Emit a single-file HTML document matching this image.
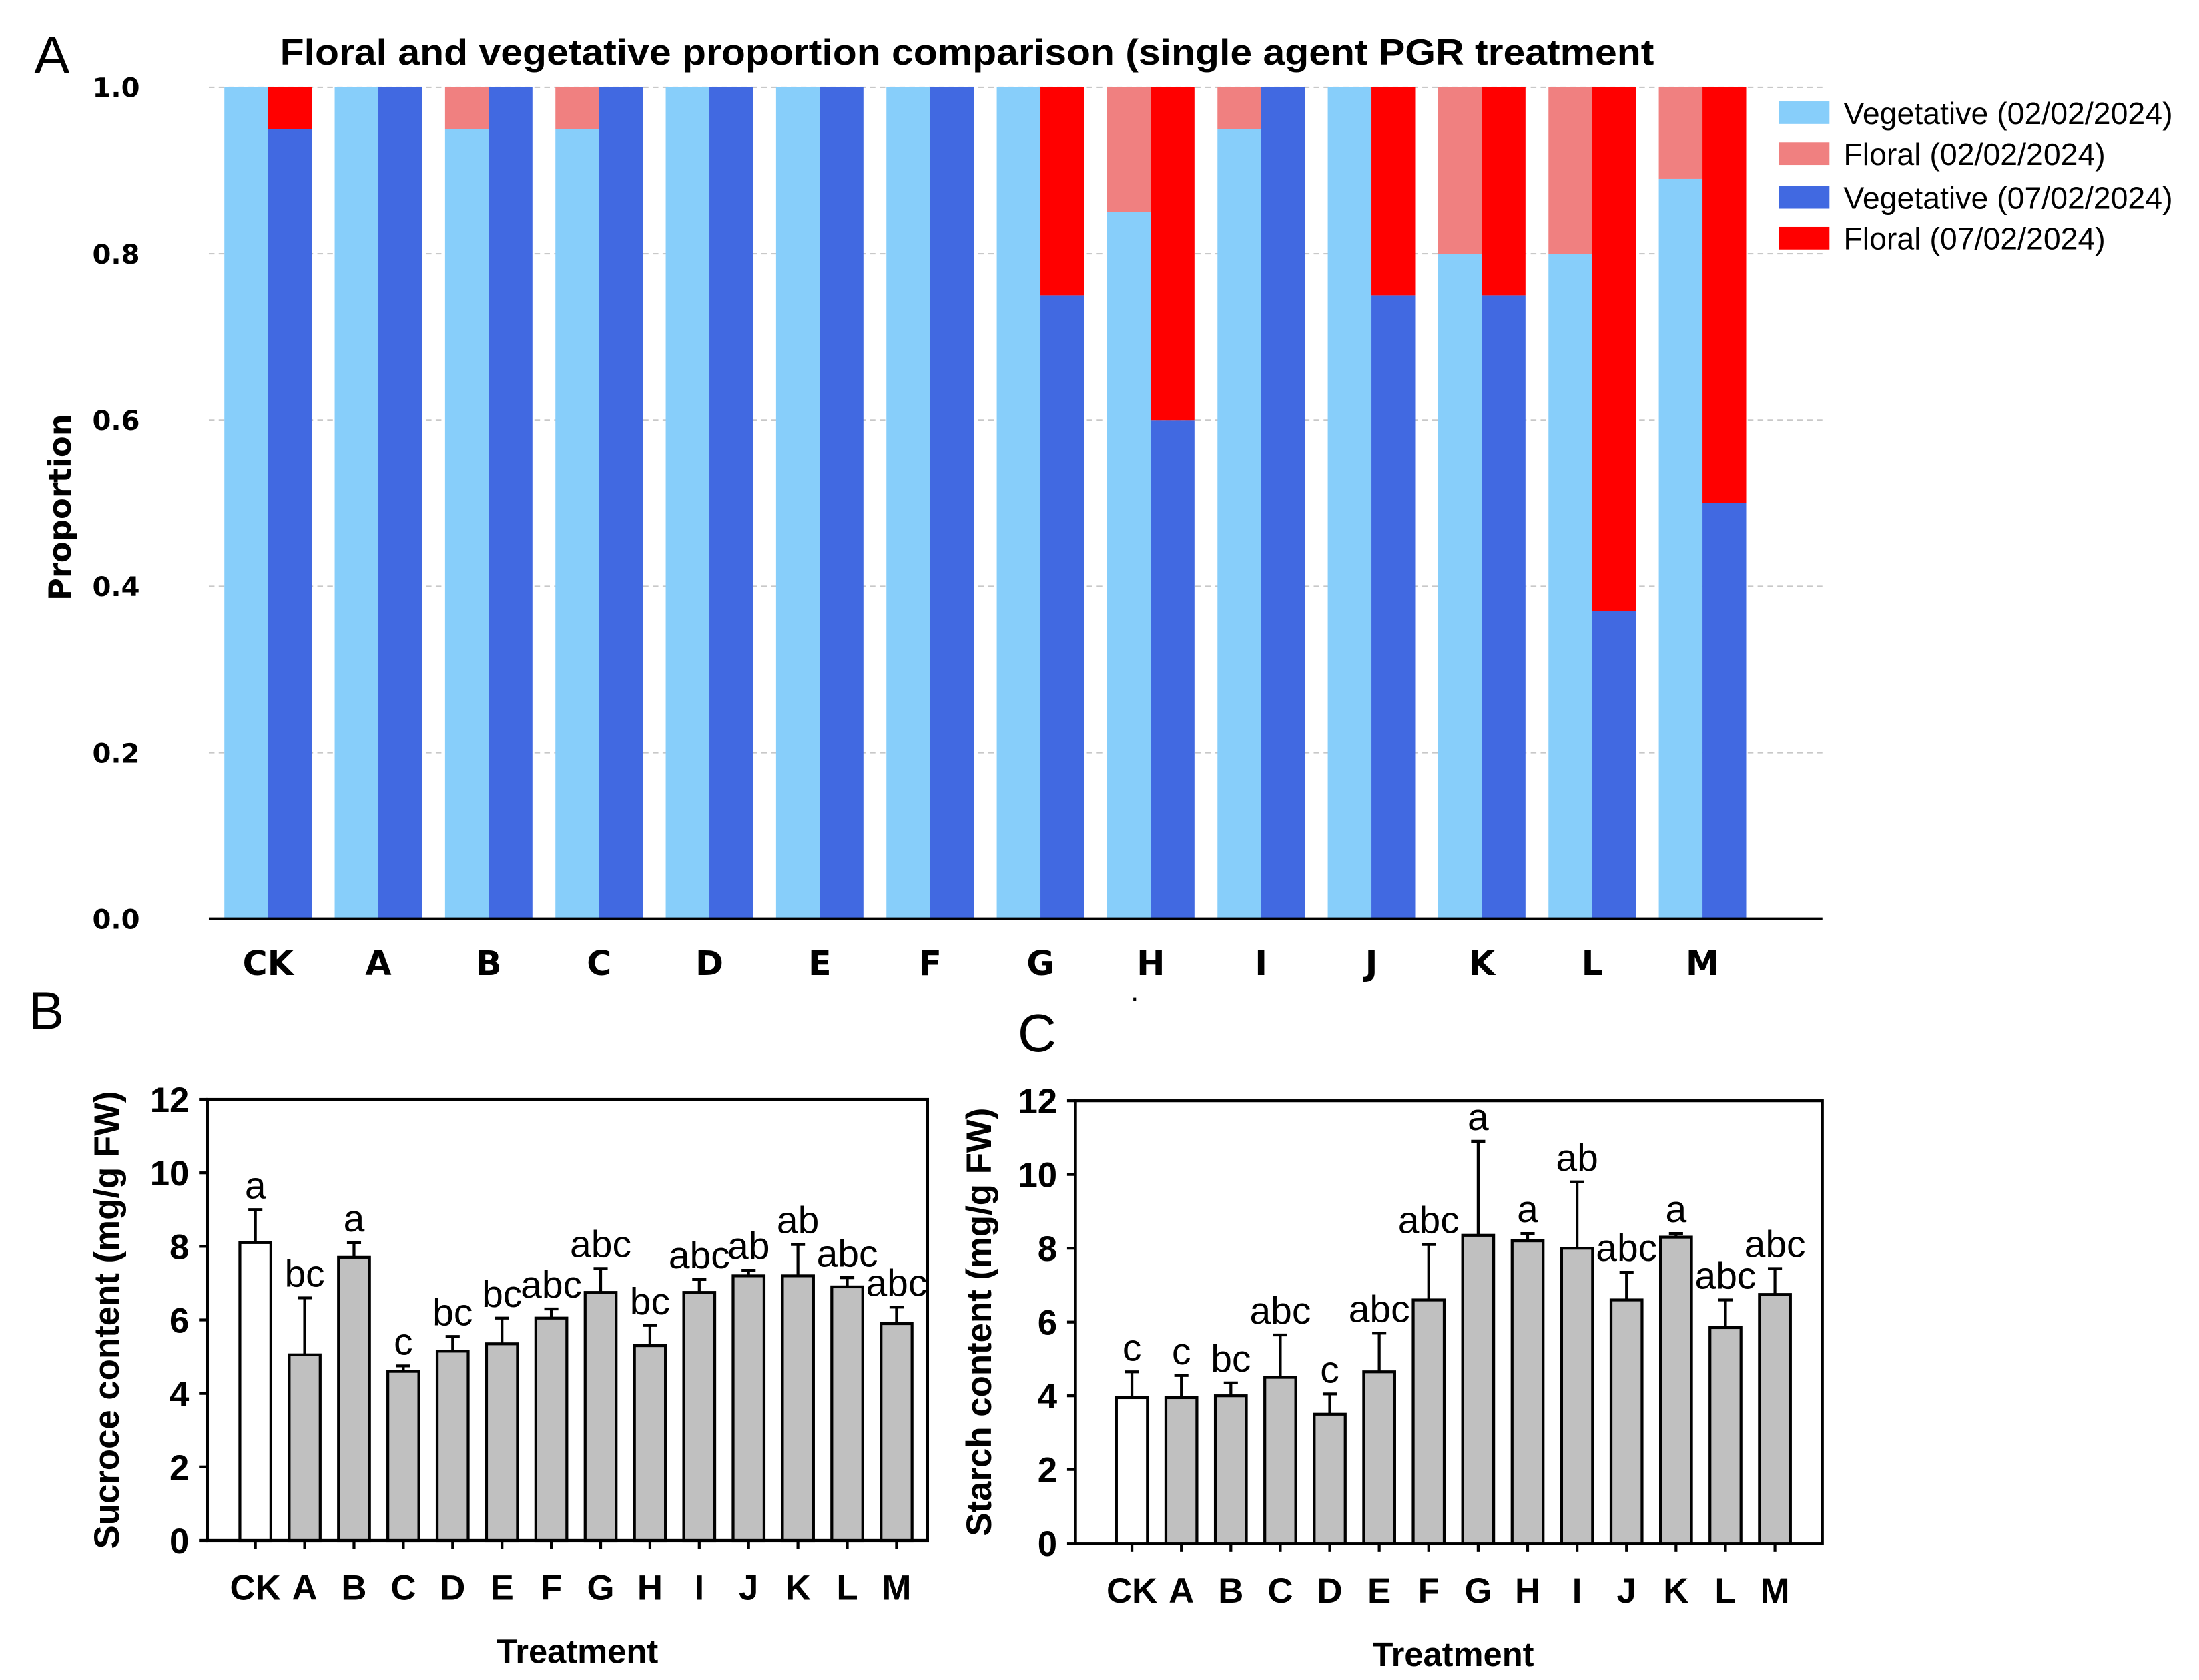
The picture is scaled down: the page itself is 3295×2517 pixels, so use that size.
<!DOCTYPE html>
<html><head><meta charset="utf-8"><style>
html,body{margin:0;padding:0;background:#fff}
svg{display:block}
text{font-family:"Liberation Sans",Arial,sans-serif}
text.dv{font-family:"DejaVu Sans",sans-serif}
</style></head><body>
<svg id="fig" width="3295" height="2517" viewBox="0 0 1560 1192" xmlns="http://www.w3.org/2000/svg">
<g id="pa"></g>
<g id="pb"></g>
<g id="pc"></g>
</svg>
<script>
const catsA = ["CK","A","B","C","D","E","F","G","H","I","J","K","L","M"];
const veg1 = [1,1,0.95,0.95,1,1,1,1,0.85,0.95,1,0.8,0.8,0.89];
const veg2 = [0.95,1,1,1,1,1,1,0.75,0.6,1,0.75,0.75,0.37,0.5];
const ticksA = ["0.0","0.2","0.4","0.6","0.8","1.0"];
const catsB = ["CK","A","B","C","D","E","F","G","H","I","J","K","L","M"];
const sucrose = [8.1,5.05,7.7,4.6,5.15,5.35,6.05,6.75,5.3,6.75,7.2,7.2,6.9,5.9];
const sucroseErr = [0.9,1.55,0.4,0.15,0.4,0.7,0.25,0.65,0.55,0.35,0.15,0.85,0.25,0.45];
const sucroseLetters = ["a","bc","a","c","bc","bc","abc","abc","bc","abc","ab","ab","abc","abc"];
const starch = [3.95,3.95,4.0,4.5,3.5,4.65,6.6,8.35,8.2,8.0,6.6,8.3,5.85,6.75];
const starchErr = [0.7,0.6,0.35,1.15,0.55,1.05,1.5,2.55,0.2,1.8,0.75,0.1,0.75,0.7];
const starchLetters = ["c","c","bc","abc","c","abc","abc","a","a","ab","abc","a","abc","abc"];
const ticksBC = [0,2,4,6,8,10,12];

const NS="http://www.w3.org/2000/svg";
function mk(parent,tag,attrs,txt){const e=document.createElementNS(NS,tag);for(const k in attrs)e.setAttribute(k,attrs[k]);if(txt!==undefined)e.textContent=txt;parent.appendChild(e);return e;}

// Panel A
const pa=document.getElementById('pa');
const ax0=148, ax1=1293, ay0=652, ay1=62;
const yA=v=>ay0-(ay0-ay1)*v;
const xA=i=>190+i*78.3;
let t=mk(pa,'text',{x:24,y:52,'font-size':38},'A');

t=mk(pa,'text',{x:686,y:46,'font-size':26,'font-weight':'bold','text-anchor':'middle',textLength:975,lengthAdjust:'spacingAndGlyphs'},'Floral and vegetative proportion comparison (single agent PGR treatment');

ticksA.forEach((lb,i)=>{const v=i*0.2;const y=yA(v);
 const g=mk(pa,'line',{x1:ax0,x2:ax1,y1:y,y2:y,stroke:'#c8c8c8','stroke-dasharray':'4,3','stroke-width':1});
 
 const tt=mk(pa,'text',{class:'dv',x:99,y:y+7,'font-size':19,'font-weight':'bold','text-anchor':'end'},lb);
 
});
catsA.forEach((c,i)=>{const cx=xA(i),w=31;
 let r=mk(pa,'rect',{x:cx-w,y:yA(veg1[i]),width:w,height:ay0-yA(veg1[i]),fill:'#87cefa'});
 
 r=mk(pa,'rect',{x:cx-w,y:yA(1),width:w,height:yA(veg1[i])-yA(1),fill:'#f08080'});
 
 r=mk(pa,'rect',{x:cx,y:yA(veg2[i]),width:w,height:ay0-yA(veg2[i]),fill:'#4169e1'});
 
 r=mk(pa,'rect',{x:cx,y:yA(1),width:w,height:yA(veg2[i])-yA(1),fill:'#ff0000'});
 
 const tt=mk(pa,'text',{class:'dv',x:cx,y:692,'font-size':24,'font-weight':'bold','text-anchor':'middle'},c);
 
});
let l=mk(pa,'line',{x1:ax0,x2:ax1,y1:ay0,y2:ay0,stroke:'#000','stroke-width':2});

t=mk(pa,'text',{class:'dv',x:50,y:360,'font-size':22,'font-weight':'bold','text-anchor':'middle',transform:'rotate(-90 50 360)'},'Proportion');

const legTxt=["Vegetative (02/02/2024)","Floral (02/02/2024)","Vegetative (07/02/2024)","Floral (07/02/2024)"];
const legCol=["#87cefa","#f08080","#4169e1","#ff0000"];
const legY=[80,109,140,169];
legTxt.forEach((s,i)=>{
 const r=mk(pa,'rect',{x:1262,y:legY[i]-8,width:36,height:16,fill:legCol[i]});
 
 const tt=mk(pa,'text',{x:1308,y:legY[i]+8,'font-size':22},s);
 
});
t=mk(pa,'text',{x:803,y:710,'font-size':14,'font-weight':'bold'},'.');


// Panels B, C
function bars(g,o){
 const {x0,x1,y0,y1,cx0,step,vals,errs,lets,title,xt,labx,laby,lab}=o;
 const y=v=>y0-(y0-y1)*v/12;
 let e=mk(g,'text',{x:labx,y:laby,'font-size':38},lab);
 
 e=mk(g,'rect',{x:x0,y:y1,width:x1-x0,height:y0-y1,fill:'none',stroke:'#000','stroke-width':2});
 
 ticksBC.forEach(v=>{
  const tk=mk(g,'line',{x1:x0,x2:x0-6,y1:y(v),y2:y(v),stroke:'#000','stroke-width':2});
  
  const tt=mk(g,'text',{x:x0-13,y:y(v)+9,'font-size':25,'font-weight':'bold','text-anchor':'end'},String(v));
  
 });
 catsB.forEach((c,i)=>{const cx=cx0+i*step,w=22;
  const r=mk(g,'rect',{x:cx-w/2,y:y(vals[i]),width:w,height:y0-y(vals[i]),fill:i===0?'#fff':'#c0c0c0',stroke:'#000','stroke-width':2});
  
  const ey=y(vals[i]+errs[i]);
  const el=mk(g,'path',{d:`M${cx} ${y(vals[i])}V${ey}M${cx-5} ${ey}H${cx+5}`,stroke:'#000','stroke-width':2,fill:'none'});
  
  const lt=mk(g,'text',{x:cx,y:ey-8,'font-size':27,'text-anchor':'middle'},lets[i]);
  
  const tk=mk(g,'line',{x1:cx,x2:cx,y1:y0,y2:y0+6,stroke:'#000','stroke-width':2});
  
  const xl=mk(g,'text',{x:cx,y:y0+42,'font-size':25,'font-weight':'bold','text-anchor':'middle'},c);
  
 });
 const mx=(x0+x1)/2+ (o.xtOff||0);
 e=mk(g,'text',{x:mx,y:y0+87,'font-size':24,'font-weight':'bold','text-anchor':'middle'},xt);
 
 const ty=(y0+y1)/2, tx=o.tx;
 e=mk(g,'text',{x:tx,y:ty,'font-size':25,'font-weight':'bold','text-anchor':'middle',transform:`rotate(-90 ${tx} ${ty})`},title);
 
}
bars(document.getElementById('pb'),{x0:147,x1:658,y0:1093,y1:780,cx0:181,step:35,vals:sucrose,errs:sucroseErr,lets:sucroseLetters,title:'Sucroce content (mg/g FW)',xt:'Treatment',labx:20,laby:730,lab:'B',tx:84,xtOff:7});
bars(document.getElementById('pc'),{x0:763,x1:1293,y0:1095,y1:781,cx0:803,step:35.1,vals:starch,errs:starchErr,lets:starchLetters,title:'Starch content (mg/g FW)',xt:'Treatment',labx:722,laby:746,lab:'C',tx:703,xtOff:3});
</script>
</body></html>
